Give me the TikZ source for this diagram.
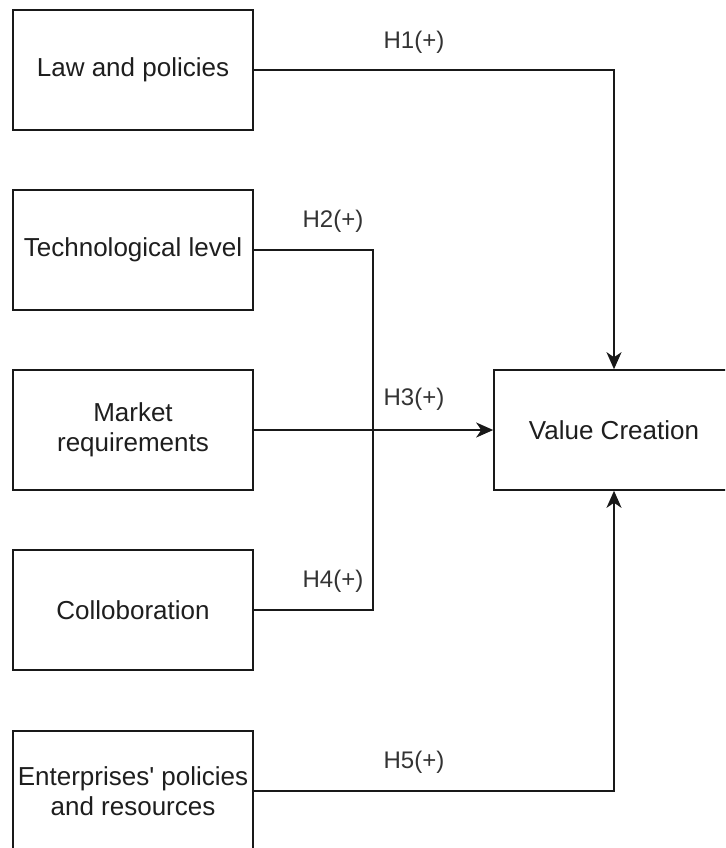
\documentclass[tikz,border=0pt]{standalone}
\usepackage{fontspec}
\setmainfont{Liberation Sans}[Ligatures=TeXOff]
\usetikzlibrary{arrows.meta}
\definecolor{txt}{HTML}{1E1E1E}
\definecolor{lbl}{HTML}{333333}
\begin{document}
\begin{tikzpicture}[x=1pt,y=-1pt,
  box/.style={draw=black!90, line width=1.6pt, minimum width=240pt, minimum height=120pt,
    inner sep=0pt, align=center, text=txt, font=\fontsize{26}{30.5}\selectfont},
  lab/.style={text=lbl, font=\fontsize{24}{28}\selectfont, inner sep=0pt},
  conn/.style={draw=black!90, line width=1.6pt},
  arr/.style={conn, -{Stealth[length=17pt, width=15pt, inset=5pt]}}]
\clip (0,0) rectangle (725,848);
\fill[white] (0,0) rectangle (725,848);
\node[box] (law) at (133,70) {Law and policies};
\node[box] (tech) at (133,250) {Technological level};
\node[box] (market) at (133,430) {Market\\requirements};
\node[box] (colab) at (133,610) {Colloboration};
\node[box] (ent) at (133,791) {Enterprises' policies\\and resources};
\node[box] (vc) at (614,430) {Value Creation};
\coordinate (j) at (373,430);
\draw[arr] (law.east) -| (vc.north);
\draw[conn] (tech.east) -| (j);
\draw[conn] (colab.east) -| (j);
\draw[arr] (market.east) -- (vc.west);
\draw[arr] (ent.east) -| (vc.south);
\node[lab] (h1) at (414,42) {H1(+)};
\node[lab] (h2) at (333,221) {H2(+)};
\node[lab] (h3) at (414,399) {H3(+)};
\node[lab] (h4) at (333,581) {H4(+)};
\node[lab] (h5) at (414,762) {H5(+)};
\end{tikzpicture}
\end{document}
